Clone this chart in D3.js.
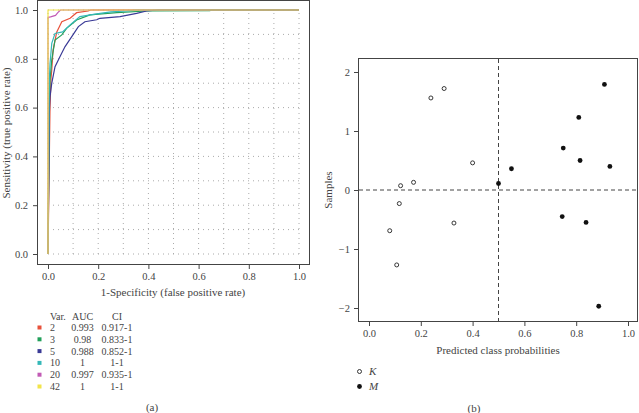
<!DOCTYPE html>
<html>
<head>
<meta charset="utf-8">
<script src="https://cdn.jsdelivr.net/npm/d3@7"></script>
<style>
  body { margin: 0; background: #fff; }
  svg text { font-family: "Liberation Serif", "DejaVu Serif", serif; }
  .tick text { fill: #444; font-size: 10.5px; }
  .tick line, .domain { stroke: #444; }
</style>
</head>
<body>
<svg width="639" height="413"></svg>
<script>
// ROC curves, (fpr, tpr) pairs
const rocVars = ['2', '3', '5', '10', '20', '42'];
const rocAUC = ['0.993', '0.98', '0.988', '1', '0.997', '1'];
const rocCI = ['0.917-1', '0.833-1', '0.852-1', '1-1', '0.935-1', '1-1'];
const rocColors = ['#e8513a', '#21a05a', '#3a3a96', '#35b8b8', '#c25bb5', '#f2e44a'];

const roc2 = [[0,0],[0.008,0.6],[0.012,0.72],[0.015,0.754],[0.02,0.836],[0.035,0.91],[0.055,0.952],[0.088,0.966],[0.114,0.989],[0.16,0.996],[0.17,1],[1,1]];
const roc3 = [[0,0],[0.005,0.6],[0.008,0.713],[0.015,0.795],[0.028,0.877],[0.055,0.898],[0.074,0.925],[0.114,0.959],[0.167,0.98],[0.274,0.989],[0.393,0.996],[0.645,0.997],[0.65,1],[1,1]];
const roc5 = [[0,0],[0.005,0.5],[0.005,0.57],[0.008,0.645],[0.015,0.70],[0.028,0.768],[0.048,0.809],[0.068,0.85],[0.094,0.89],[0.121,0.932],[0.147,0.952],[0.194,0.96],[0.207,0.966],[0.287,0.973],[0.353,0.986],[0.393,0.996],[0.44,1],[1,1]];
const roc10 = [[0,0],[0.005,0.7],[0.008,0.78],[0.015,0.863],[0.028,0.904],[0.058,0.91],[0.088,0.939],[0.127,0.973],[0.194,0.984],[0.25,0.992],[0.313,0.996],[0.35,1],[1,1]];
const roc20 = [[0,0],[0,0.97],[0.01,0.972],[0.03,0.978],[0.04,0.99],[0.05,1],[1,1]];
const roc42 = [[0,0],[0,1],[1,1]];
const rocData = [roc2, roc3, roc5, roc10, roc20, roc42];

const rocTicks = [0, 0.2, 0.4, 0.6, 0.8, 1.0];
const rocGrid = d3.range(0, 11).map(d => d / 10);

// predicted class probabilities vs samples
const kProb = [0.239, 0.29, 0.40, 0.122, 0.172, 0.117, 0.328, 0.08, 0.107];
const kSample = [1.56, 1.72, 0.46, 0.073, 0.13, -0.23, -0.56, -0.69, -1.27];
const mProb = [0.50, 0.55, 0.75, 0.81, 0.909, 0.815, 0.93, 0.746, 0.838, 0.887];
const mSample = [0.11, 0.36, 0.71, 1.23, 1.79, 0.50, 0.40, -0.45, -0.55, -1.97];
const probTicks = [0, 0.2, 0.4, 0.6, 0.8, 1.0];
const sampleTicks = [-2, -1, 0, 1, 2];

const svg = d3.select('svg');
const fmt = d3.format('.1f');

// ---------- panel (a) ----------
let x = d3.scaleLinear().domain([0, 1]).range([48, 299]);
let y = d3.scaleLinear().domain([0, 1]).range([254, 10]);

let gA = svg.append('g');

// grid
gA.selectAll('.vg').data(rocGrid).join('line')
  .attr('x1', d => x(d)).attr('x2', d => x(d))
  .attr('y1', y(0)).attr('y2', y(1))
  .attr('stroke', '#aaa').attr('stroke-dasharray', '1,4');
gA.selectAll('.hg').data(rocGrid).join('line')
  .attr('x1', x(0)).attr('x2', x(1))
  .attr('y1', d => y(d)).attr('y2', d => y(d))
  .attr('stroke', '#aaa').attr('stroke-dasharray', '1,4');

// curves
let rocLine = d3.line().x(d => x(d[0])).y(d => y(d[1]));
gA.selectAll('.roc').data(rocData).join('path')
  .attr('fill', 'none')
  .attr('stroke', (d, i) => rocColors[i])
  .attr('stroke-width', 1.2)
  .attr('d', rocLine);

// box
gA.append('rect').attr('x', 37.5).attr('y', 0.5).attr('width', 272).attr('height', 264)
  .attr('fill', 'none').attr('stroke', '#444');

// axes
gA.append('g').attr('transform', 'translate(0,265)')
  .call(d3.axisBottom(x).tickValues(rocTicks).tickFormat(fmt).tickSize(4).tickPadding(4))
  .call(g => g.select('.domain').remove());
gA.append('g').attr('transform', 'translate(37,0)')
  .call(d3.axisLeft(y).tickValues(rocTicks).tickFormat(fmt).tickSize(4).tickPadding(5))
  .call(g => g.select('.domain').remove());

gA.append('text').attr('x', 173).attr('y', 296).attr('text-anchor', 'middle')
  .attr('font-size', 11).attr('fill', '#444').text('1-Specificity (false positive rate)');
gA.append('text').attr('transform', 'translate(10,133) rotate(-90)').attr('text-anchor', 'middle')
  .attr('font-size', 11).attr('fill', '#444').text('Sensitivity (true positive rate)');

// legend table
let lg = gA.append('g').attr('font-size', 10).attr('fill', '#444');
lg.append('text').attr('x', 50).attr('y', 320).text('Var.');
lg.append('text').attr('x', 82.5).attr('y', 320).attr('text-anchor', 'middle').text('AUC');
lg.append('text').attr('x', 117).attr('y', 320).attr('text-anchor', 'middle').text('CI');
let rows = lg.selectAll('.row').data(rocVars).join('g')
  .attr('transform', (d, i) => `translate(0,${331 + i * 11.8})`);
rows.append('rect').attr('x', 37.5).attr('y', -5.5).attr('width', 4).attr('height', 4)
  .attr('fill', (d, i) => rocColors[i]);
rows.append('text').attr('x', 50).text(d => d);
rows.append('text').attr('x', 82.5).attr('text-anchor', 'middle').text((d, i) => rocAUC[i]);
rows.append('text').attr('x', 117).attr('text-anchor', 'middle').text((d, i) => rocCI[i]);

gA.append('text').attr('x', 152).attr('y', 411).attr('text-anchor', 'middle')
  .attr('font-size', 11).attr('fill', '#444').text('(a)');

// ---------- panel (b) ----------
let x2 = d3.scaleLinear().domain([0, 1]).range([369, 628]);
let y2 = d3.scaleLinear().domain([0, 1]).range([190, 131]);

let gB = svg.append('g');

gB.append('line').attr('x1', x2(0.5)).attr('x2', x2(0.5)).attr('y1', 59).attr('y2', 321)
  .attr('stroke', '#444').attr('stroke-dasharray', '4,3');
gB.append('line').attr('x1', 359).attr('x2', 638).attr('y1', y2(0)).attr('y2', y2(0))
  .attr('stroke', '#444').attr('stroke-dasharray', '4,3');

gB.append('rect').attr('x', 358.5).attr('y', 58.5).attr('width', 279).attr('height', 263)
  .attr('fill', 'none').attr('stroke', '#444');

gB.selectAll('.k').data(kProb).join('circle')
  .attr('cx', d => x2(d)).attr('cy', (d, i) => y2(kSample[i])).attr('r', 2)
  .attr('fill', '#fff').attr('stroke', '#222').attr('stroke-width', 0.9);
gB.selectAll('.m').data(mProb).join('circle')
  .attr('cx', d => x2(d)).attr('cy', (d, i) => y2(mSample[i])).attr('r', 2.4)
  .attr('fill', '#111');

gB.append('g').attr('transform', 'translate(0,322)')
  .call(d3.axisBottom(x2).tickValues(probTicks).tickFormat(fmt).tickSize(4).tickPadding(4))
  .call(g => g.select('.domain').remove());
gB.append('g').attr('transform', 'translate(358,0)')
  .call(d3.axisLeft(y2).tickValues(sampleTicks).tickFormat(d => d < 0 ? '\u2212' + Math.abs(d) : d).tickSize(4).tickPadding(4))
  .call(g => g.select('.domain').remove());

gB.append('text').attr('x', 498).attr('y', 354).attr('text-anchor', 'middle')
  .attr('font-size', 11).attr('fill', '#444').text('Predicted class probabilities');
gB.append('text').attr('transform', 'translate(332,190) rotate(-90)').attr('text-anchor', 'middle')
  .attr('font-size', 11).attr('fill', '#444').text('Samples');

// legend
gB.append('circle').attr('cx', 359.5).attr('cy', 371.5).attr('r', 2)
  .attr('fill', '#fff').attr('stroke', '#222').attr('stroke-width', 0.9);
gB.append('text').attr('x', 369).attr('y', 375).attr('font-size', 11).attr('font-style', 'italic')
  .attr('fill', '#444').text('K');
gB.append('circle').attr('cx', 359.5).attr('cy', 386.5).attr('r', 2.4).attr('fill', '#111');
gB.append('text').attr('x', 369).attr('y', 390).attr('font-size', 11).attr('font-style', 'italic')
  .attr('fill', '#444').text('M');

gB.append('text').attr('x', 474).attr('y', 412).attr('text-anchor', 'middle')
  .attr('font-size', 11).attr('fill', '#444').text('(b)');
</script>
</body>
</html>
